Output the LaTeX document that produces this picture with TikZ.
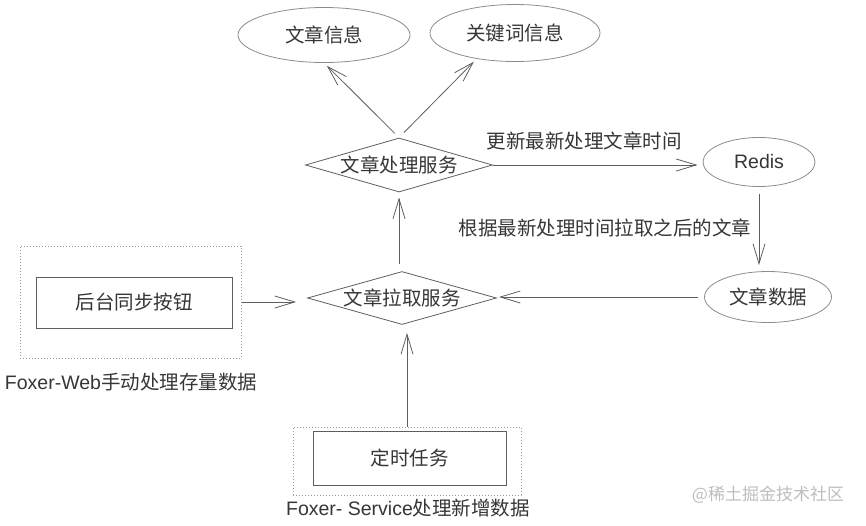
\documentclass[tikz,border=0pt]{standalone}
\usepackage{fontspec}
\setmainfont{Noto Sans CJK SC}
\newfontfamily\latinfont{Liberation Sans}
\usetikzlibrary{shapes.geometric,arrows.meta}
\definecolor{txt}{HTML}{363636}
\definecolor{linec}{HTML}{5E5E5E}
\definecolor{shapec}{HTML}{8C8C8C}
\definecolor{dotc}{HTML}{9A9A9A}
\definecolor{wmc}{HTML}{BDBDBD}
\begin{document}
\begin{tikzpicture}[x=1pt,y=-1pt,
  lab/.style={font=\fontsize{19.5}{22}\selectfont, text=txt, inner sep=0pt},
  oval/.style={ellipse, draw=shapec, line width=0.8pt, lab},
  dia/.style={diamond, draw=linec, line width=0.8pt, aspect=3.5, lab},
  box/.style={rectangle, draw=linec, line width=1pt, lab},
  dotbox/.style={rectangle, draw=dotc, dotted, line width=1pt, inner sep=0pt},
  arr/.style={draw=linec, line width=0.8pt, -{Straight Barb[length=20pt,width=12pt]}}]
\useasboundingbox (0,0) rectangle (866,525);

\node[oval, minimum width=172, minimum height=55] (info) at (324,35) {文章信息};
\node[oval, minimum width=170, minimum height=57] (kw) at (515,33) {关键词信息};
\node[oval, minimum width=112, minimum height=49] (redis) at (759,162) {\latinfont Redis};
\node[oval, minimum width=127, minimum height=51] (data) at (768,297) {文章数据};
\node[dia, minimum width=187, minimum height=54] (proc) at (399,165) {文章处理服务};
\node[dia, minimum width=189, minimum height=53] (pull) at (402,298) {文章拉取服务};

\node[dotbox, minimum width=221, minimum height=112] (web) at (130.5,302) {};
\node[box, minimum width=196, minimum height=51] (btn) at (134,302.5) {后台同步按钮};
\node[dotbox, minimum width=228, minimum height=68] (svc) at (407,461) {};
\node[box, minimum width=193, minimum height=54] (timer) at (409.5,458) {定时任务};

\node[lab] (weblab) at (131,382) {{\latinfont Foxer-Web}手动处理存量数据};
\node[lab] (svclab) at (408,508) {{\latinfont Foxer- Service}处理新增数据};
\node[lab] (l1) at (584,141) {更新最新处理文章时间};
\node[lab] (l2) at (605,228) {根据最新处理时间拉取之后的文章};
\node[lab, text=wmc, font=\fontsize{17}{20}\selectfont] (wm) at (768,495) {@稀土掘金技术社区};

\draw[arr, shorten <=6pt, shorten >=4pt] (proc.north) -- (info.south);
\draw[arr, shorten <=7pt, shorten >=4pt] (proc.north) -- (kw.214);
\draw[arr, shorten >=5pt] (proc.east) -- (proc.east -| redis.west);
\draw[arr, shorten <=7pt, shorten >=6pt] (redis.south) -- (redis.south |- data.north);
\draw[arr, shorten <=6pt, shorten >=2pt] (data.west) -- (data.west -| pull.east);
\draw[arr, shorten >=11pt] (web.east) -- (web.east -| pull.west);
\draw[arr, shorten <=7pt, shorten >=5pt] (pull.north -| proc.south) -- (proc.south);
\draw[arr, shorten >=8pt] (svc.north) -- (svc.north |- pull.south);
\end{tikzpicture}
\end{document}
